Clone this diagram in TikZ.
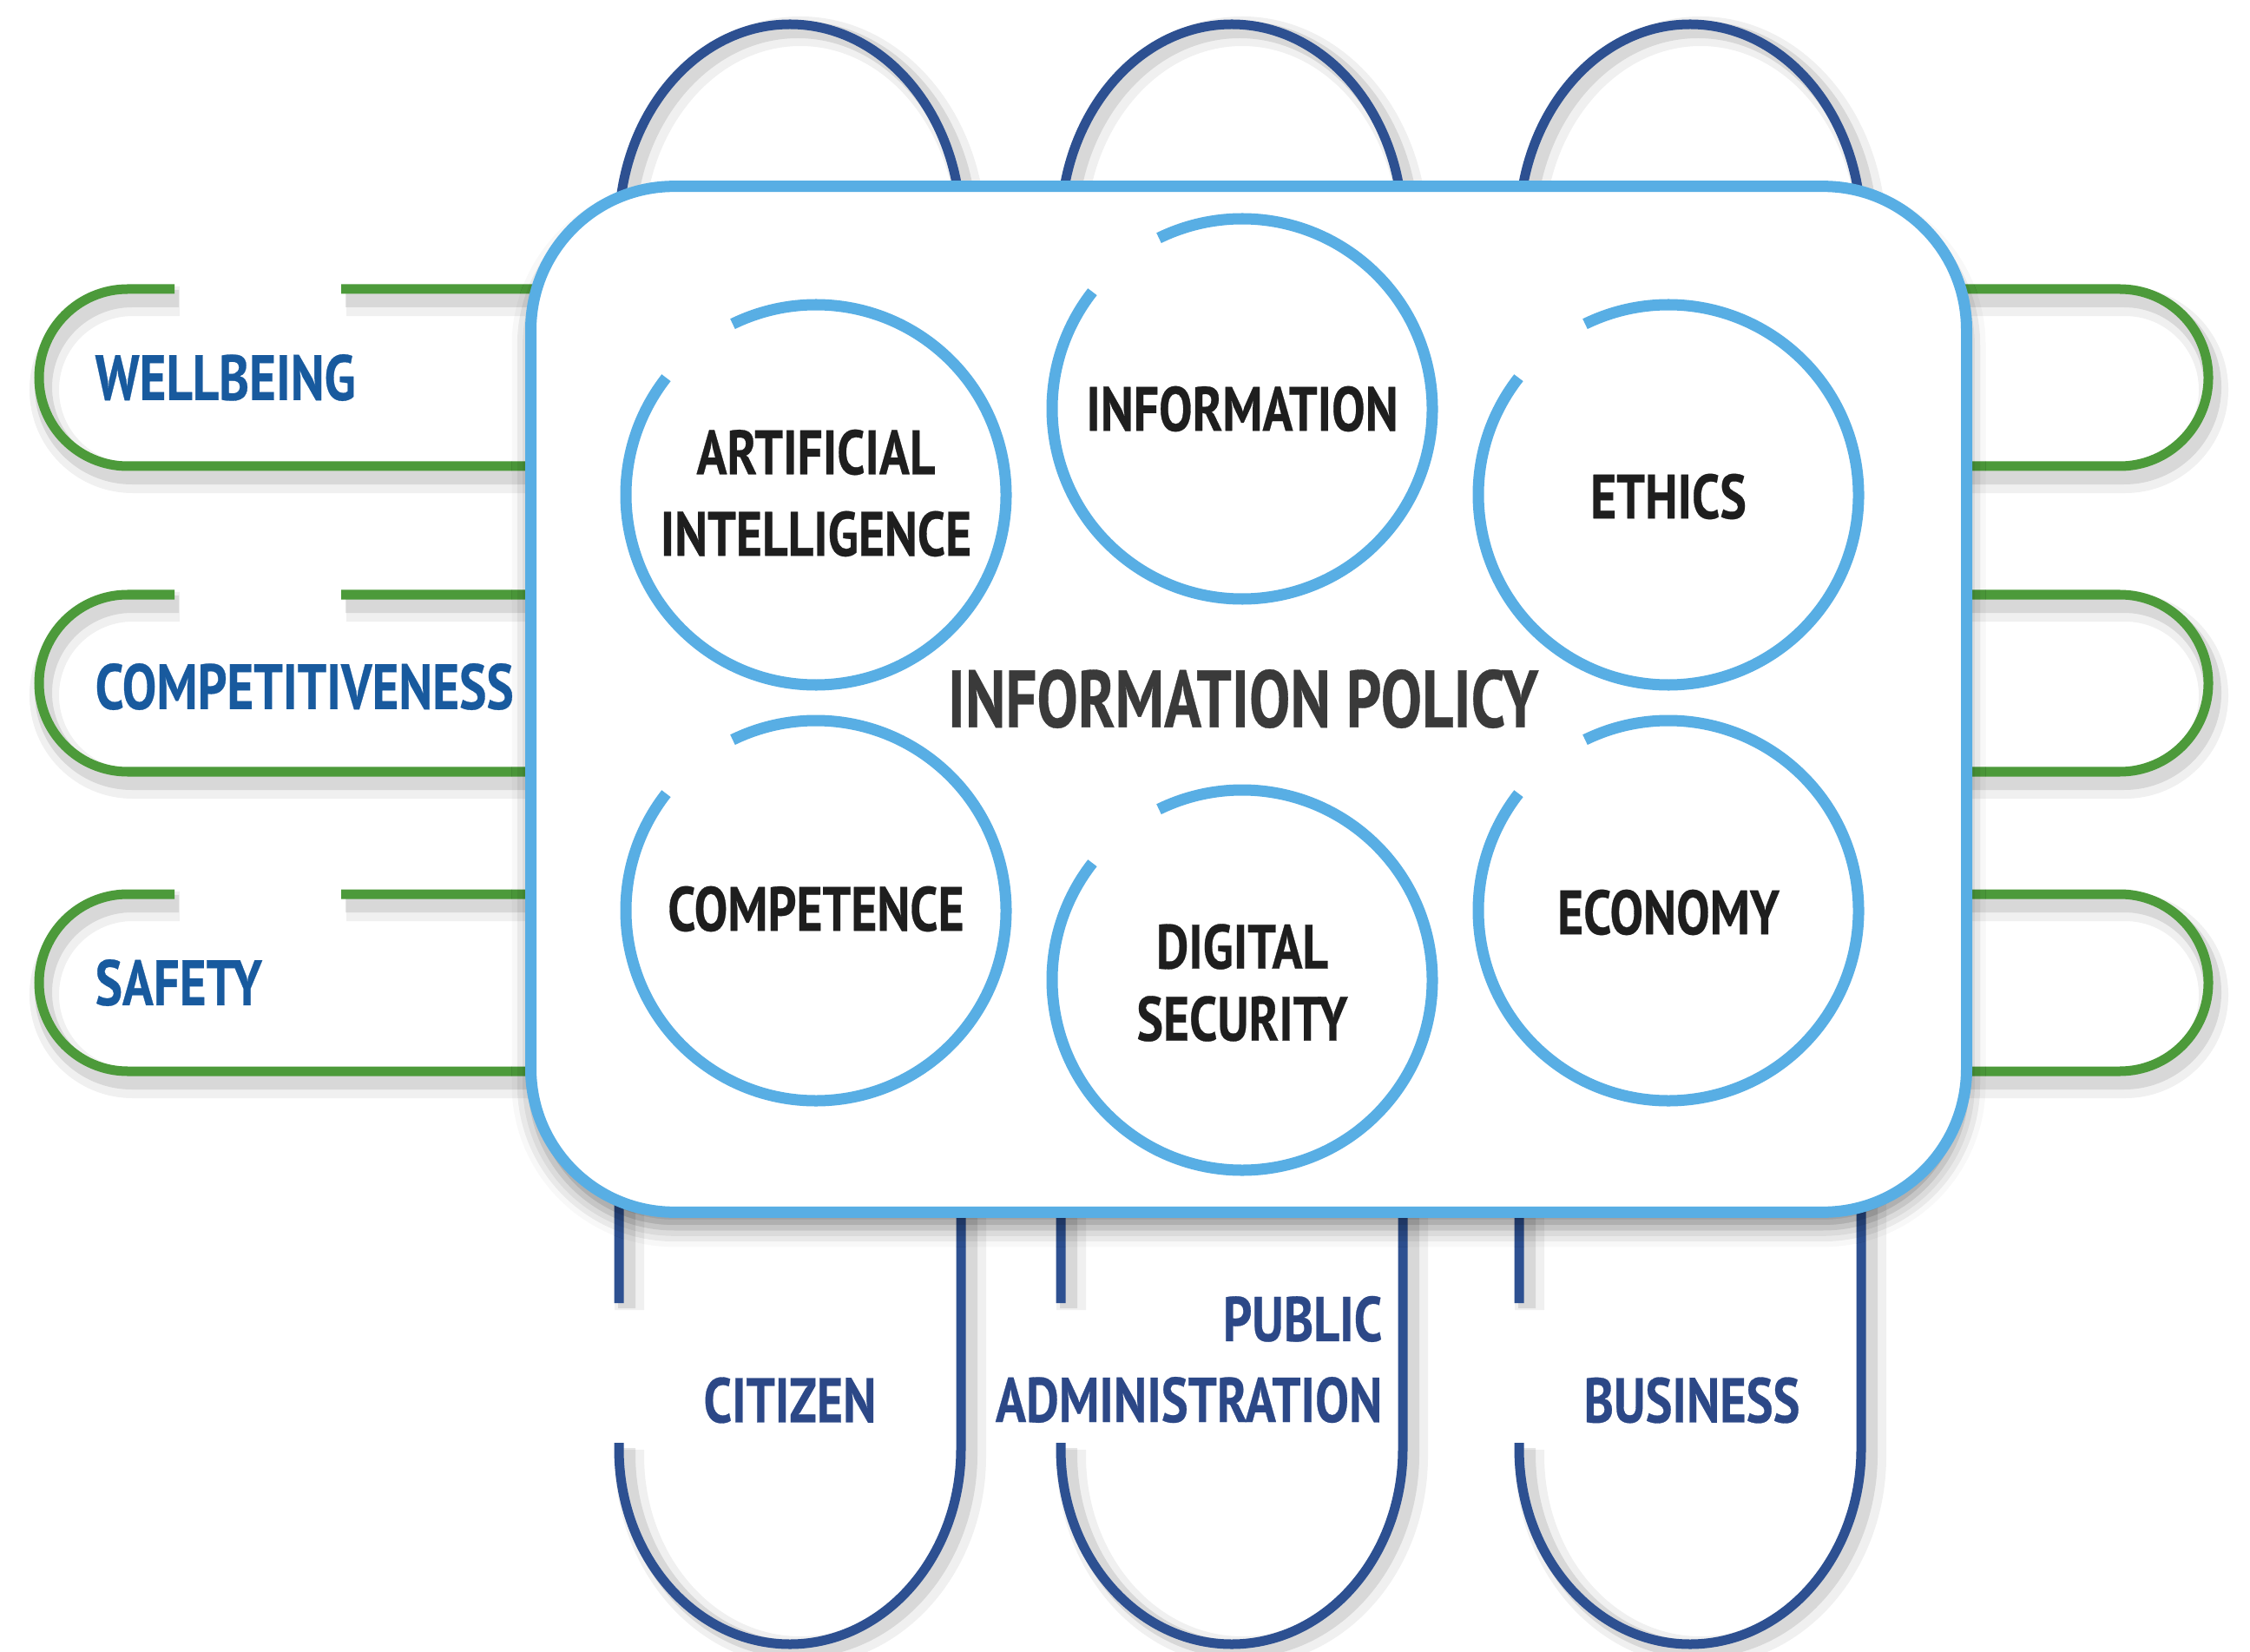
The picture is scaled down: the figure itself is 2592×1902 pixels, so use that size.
\documentclass[tikz,border=0pt]{standalone}
\usepackage{fontspec}
\newfontfamily\lblfont{PT Sans}[FakeStretch=0.80, BoldFeatures={FakeBold=0.4}]
\newfontfamily\ipfont{PT Sans}[FakeStretch=0.76, BoldFeatures={FakeBold=0.4}]
\usetikzlibrary{shadows.blur}
\definecolor{gr}{RGB}{76,154,58}
\definecolor{nv}{RGB}{45,80,145}
\definecolor{lb}{RGB}{88,174,228}
\definecolor{lbltxt}{RGB}{24,90,158}
\definecolor{navytxt}{RGB}{44,72,135}
\definecolor{dk}{RGB}{30,30,30}
\definecolor{ipc}{RGB}{58,58,58}
\begin{document}
\begin{tikzpicture}[x=0.01cm,y=0.01cm,
  gline/.style={draw=gr, line width=0.11cm},
  nline/.style={draw=nv, line width=0.11cm},
  shdA/.style={draw=black, opacity=0.06, line width=0.34cm},
  shdB/.style={draw=black, opacity=0.10, line width=0.20cm},
  ring/.style={draw=lb, line width=0.13cm},
  ctext/.style={font=\lblfont\bfseries\fontsize{20.5}{26.7}\selectfont, text=dk, align=center, inner sep=0pt},
  ltext/.style={font=\lblfont\bfseries\fontsize{21}{26}\selectfont, text=lbltxt, anchor=west, inner sep=0pt},
  btext/.style={font=\lblfont\bfseries\fontsize{20.7}{26.5}\selectfont, text=navytxt, inner sep=0pt},
  gp/.pic={\draw[#1] (393,102) -- (2442,102) arc[start angle=90,end angle=-90,radius=102] -- (147,-102) arc[start angle=270,end angle=90,radius=102] -- (201,102);},
  np/.pic={\draw[#1] (-197,240) -- (-197,233) arc[start angle=180,end angle=360,x radius=197,y radius=225] -- (197,1638) arc[start angle=0,end angle=180,x radius=197,y radius=236] -- (-197,401);}
]
\useasboundingbox (0,0) rectangle (2592,1902);
% shadows of the pills
\foreach \yc in {1467,1115,770}{
  \pic at (6,\yc-14) {gp=shdA};
  \pic at (5,\yc-11) {gp=shdB};
}
\foreach \xc in {910,1419,1947}{
  \pic at (\xc+12,-8) {np=shdA};
  \pic at (\xc+9,-6) {np=shdB};
}
% green horizontal pills
\pic at (0,1467) {gp=gline};
\pic at (0,1115) {gp=gline};
\pic at (0,770) {gp=gline};
% navy vertical pills
\pic at (910,0) {np=nline};
\pic at (1419,0) {np=nline};
\pic at (1947,0) {np=nline};
% main box
\node[draw=lb, fill=white, line width=0.13cm, rounded corners=1.65cm, minimum width=16.53cm, minimum height=11.81cm, inner sep=0pt,
  blur shadow={shadow xshift=0cm, shadow yshift=-0.18cm, shadow blur radius=0.22cm, shadow opacity=45}] (box) at (1438.5,1096.5) {};
% rings
\coordinate (cAI) at (940,1332);
\coordinate (cIN) at (1431,1431);
\coordinate (cET) at (1922,1332);
\coordinate (cCO) at (940,853);
\coordinate (cDS) at (1431,773);
\coordinate (cEC) at (1922,853);
\foreach \c in {cAI,cIN,cET,cCO,cDS,cEC}{
  \draw[ring] (\c) ++(142:219) arc[start angle=142,end angle=476,radius=219];
}
% ring labels
\node[ctext] (ai) at (940,1334) {ARTIFICIAL\\INTELLIGENCE};
\node[ctext] (info) at (1431,1431) {INFORMATION};
\node[ctext] (eth) at (1922,1330) {ETHICS};
\node[ctext] (comp) at (940,855) {COMPETENCE};
\node[ctext, font=\lblfont\bfseries\fontsize{20.5}{23.6}\selectfont] (ds) at (1431,770) {DIGITAL\\SECURITY};
\node[ctext] (eco) at (1922,851) {ECONOMY};
\node[font=\ipfont\bfseries\fontsize{26.5}{30}\selectfont, text=ipc, inner sep=0pt] (ip) at (1432,1097) {INFORMATION POLICY};
% left labels
\node[ltext] (wb) at (109,1467) {WELLBEING};
\node[ltext] (cp) at (109,1111) {COMPETITIVENESS};
\node[ltext] (sf) at (109,770) {SAFETY};
% bottom labels
\node[btext] (cit) at (910,289) {CITIZEN};
\node[btext, align=right, anchor=east] (pa) at (1593,336) {PUBLIC\\ADMINISTRATION};
\node[btext] (bus) at (1949,289) {BUSINESS};
\end{tikzpicture}
\end{document}
